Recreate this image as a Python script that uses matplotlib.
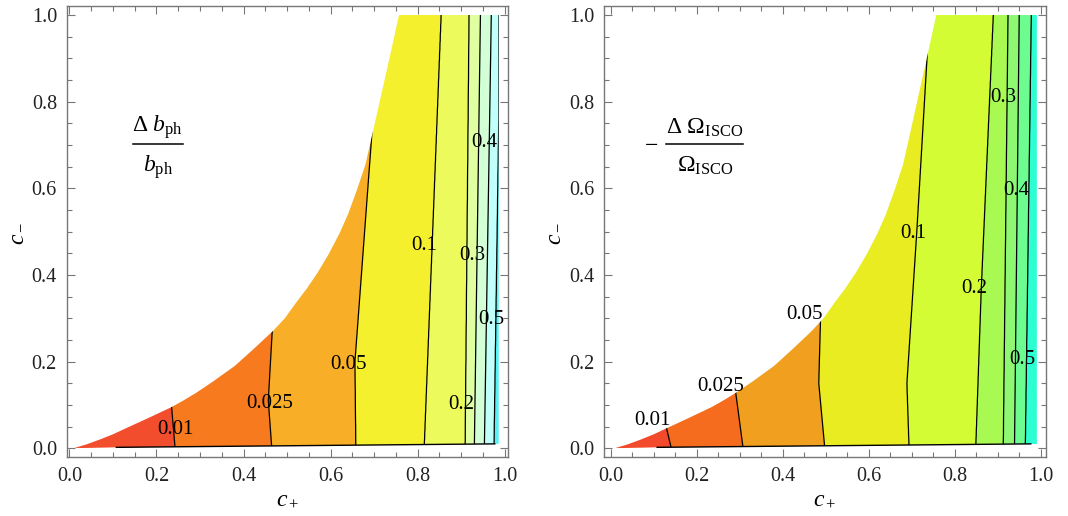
import numpy as np
import matplotlib
matplotlib.use('Agg')
import matplotlib.pyplot as plt
from matplotlib.patches import Polygon
from matplotlib.ticker import MultipleLocator, FormatStrFormatter
from matplotlib.lines import Line2D

plt.rcParams['font.family'] = ['Liberation Serif', 'DejaVu Serif']
plt.rcParams['mathtext.fontset'] = 'custom'
plt.rcParams['mathtext.rm'] = 'Liberation Serif'
plt.rcParams['mathtext.it'] = 'Liberation Serif:italic'
plt.rcParams['mathtext.bf'] = 'Liberation Serif:bold'

# ---------------- data ----------------
levels = [0.01, 0.025, 0.05, 0.1, 0.2, 0.3, 0.4, 0.5]
level_labels = ['0.01', '0.025', '0.05', '0.1', '0.2', '0.3', '0.4', '0.5']

# upper-left boundary of the allowed (c+, c-) region
bnd_x = [0.010, 0.04, 0.07, 0.10, 0.13, 0.18, 0.235, 0.26, 0.29, 0.33, 0.38, 0.42, 0.467,
         0.495, 0.52, 0.545, 0.57, 0.595, 0.62, 0.64, 0.66, 0.68, 0.697, 0.716, 0.736, 0.757]
bnd_y = [0.000, 0.009, 0.02, 0.032, 0.046, 0.069, 0.095, 0.109, 0.127, 0.154, 0.19, 0.226, 0.27,
         0.30, 0.335, 0.368, 0.405, 0.447, 0.495, 0.54, 0.595, 0.655, 0.73, 0.815, 0.904, 1.0]
# lower edge (thin black curve)
bot_x = [0.108, 0.977]
bot_y = [0.002, 0.010]

# left panel: Delta b_ph / b_ph contour positions (c- values, c+ values)
left_line_y = [[0, 0.095], [0, 0.11, 0.27], [0, 0.2, 0.727], [0, 1], [0, 1], [0, 1], [0, 1], [0, 0.76]]
left_line_x = [[0.243, 0.235], [0.465, 0.457, 0.466], [0.658, 0.656, 0.695], [0.815, 0.854],
               [0.909, 0.918], [0.930, 0.944], [0.953, 0.969], [0.975, 0.986]]
left_edge = 0.986
left_label_xy = [(0.243, 0.044), (0.459, 0.104), (0.640, 0.194), (0.816, 0.467),
                 (0.900, 0.102), (0.926, 0.444), (0.954, 0.705), (0.968, 0.298)]

# right panel: -Delta Omega_ISCO / Omega_ISCO contour positions
right_line_y = [[0, 0.046], [0, 0.127], [0, 0.15, 0.296], [0, 0.15, 0.5, 0.904], [0, 0.37, 1],
                [0, 1], [0, 1], [0, 1]]
right_line_x = [[0.141, 0.130], [0.308, 0.291], [0.498, 0.484, 0.488], [0.694, 0.689, 0.712, 0.736],
                [0.849, 0.862, 0.890], [0.913, 0.924], [0.939, 0.950], [0.964, 0.978]]
right_edge = 0.991
right_label_xy = [(0.097, 0.064), (0.256, 0.142), (0.450, 0.308), (0.703, 0.496),
                  (0.845, 0.369), (0.913, 0.810), (0.944, 0.596), (0.957, 0.204)]

left_colors = ['#f24d2d', '#f77a1e', '#f8ae26', '#f5f02e', '#ecfa5c',
               '#e0ffa0', '#d2ffd6', '#c0fffa', '#55f2f5']
right_colors = ['#f24a2a', '#f56c1e', '#f0a01e', '#e8ec20', '#d4fc34',
                '#a8fa52', '#8ef872', '#6cfc90', '#2cffd2']

W, H = 1068, 516
fig = plt.figure(figsize=(W / 100, H / 100), dpi=100)

def fx(px):
    return px / W

def fy(py):
    return 1 - py / H

def build_field(line_y, line_x, edge, xg, yg):
    lv = [0.0] + levels + [0.6]
    Z = np.empty((len(yg), len(xg)))
    for i, yv in enumerate(yg):
        xs = [-0.05] + [np.interp(yv, ly, lx) for ly, lx in zip(line_y, line_x)] + [edge + 0.05]
        Z[i] = np.interp(xg, xs, lv)
    return Z

def panel(ax, line_y, line_x, edge, colors, label_xy, xlim):
    xg = np.linspace(0, 1, 1201)
    yg = np.linspace(0, 1, 401)
    X, Y = np.meshgrid(xg, yg)
    Z = build_field(line_y, line_x, edge, xg, yg)
    verts = list(zip(bnd_x, bnd_y)) + [(edge, 1.0), (edge, bot_y[-1])] + \
        list(zip(bot_x[::-1], bot_y[::-1])) + [(bnd_x[0], 0.0)]
    clip = Polygon(verts, closed=True, facecolor='none', edgecolor='none', transform=ax.transData)
    ax.add_patch(clip)
    cf = ax.contourf(X, Y, Z, levels=[0.0] + levels + [0.6], colors=colors, antialiased=True)
    cf.set_clip_path(clip)
    cl = ax.contour(X, Y, Z, levels=levels, colors='k', linewidths=0.9)
    cl.set_clip_path(clip)
    ax.plot(bot_x, bot_y, color='k', lw=1.0)
    for (lx, ly), t in zip(label_xy, level_labels):
        ax.text(lx, ly, t, ha='center', va='center', fontsize=15, color='k')
    ax.set_xlim(*xlim)
    ax.set_ylim(-0.021, 1.0215)
    ax.xaxis.set_major_locator(MultipleLocator(0.2))
    ax.xaxis.set_minor_locator(MultipleLocator(0.05))
    ax.yaxis.set_major_locator(MultipleLocator(0.2))
    ax.yaxis.set_minor_locator(MultipleLocator(0.05))
    ax.xaxis.set_major_formatter(FormatStrFormatter('%.1f'))
    ax.yaxis.set_major_formatter(FormatStrFormatter('%.1f'))
    ax.tick_params(which='both', direction='in', top=True, right=True, color='#777777',
                   labelcolor='#222222', labelsize=14.5, width=0.8)
    ax.tick_params(which='major', length=6, pad=7)
    ax.tick_params(which='minor', length=3.5)
    for s in ax.spines.values():
        s.set_color('#777777')
        s.set_linewidth(1.0)
    ax.text(0.5, -0.095, r'$c_+$', transform=ax.transAxes, ha='center', va='center', fontsize=17)
    ax.text(-0.117, 0.497, r'$c_-$', transform=ax.transAxes, ha='center', va='center',
            fontsize=17, rotation=90)

ax1 = fig.add_axes([fx(66.7), fy(457.3), fx(508.3) - fx(66.7), fy(5.7) - fy(457.3)])
panel(ax1, left_line_y, left_line_x, left_edge, left_colors, left_label_xy, (-0.006, 1.008))
ax2 = fig.add_axes([fx(604), fy(457.3), fx(1045.7) - fx(604), fy(5.7) - fy(457.3)])
panel(ax2, right_line_y, right_line_x, right_edge, right_colors, right_label_xy, (-0.0155, 1.0116))

# panel annotations
fs = 17
fig.text(fx(158), fy(127), r'$\Delta\ b_{\rm ph}$', ha='center', va='center', fontsize=fs)
fig.add_artist(Line2D([fx(133), fx(183)], [fy(144), fy(144)], color='k', lw=1.1))
fig.text(fx(158), fy(167), r'$b_{\rm ph}$', ha='center', va='center', fontsize=fs)

fig.text(fx(652), fy(146), '\u2212', ha='center', va='center', fontsize=fs)
fig.text(fx(705), fy(128), r'$\Delta\ \Omega_{\rm ISCO}$', ha='center', va='center', fontsize=fs)
fig.add_artist(Line2D([fx(666), fx(743)], [fy(144), fy(144)], color='k', lw=1.1))
fig.text(fx(705), fy(166), r'$\Omega_{\rm ISCO}$', ha='center', va='center', fontsize=fs)

fig.savefig('out.png', dpi=100)
